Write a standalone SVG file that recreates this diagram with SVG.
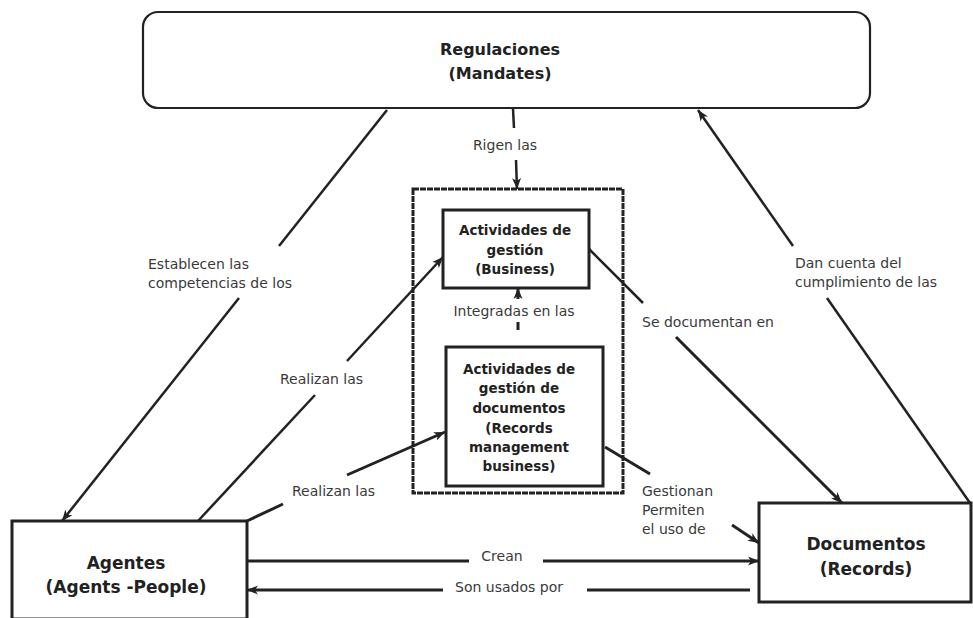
<svg xmlns="http://www.w3.org/2000/svg" width="973" height="618" viewBox="0 0 973 618">
<defs>
<marker id="ah" markerUnits="userSpaceOnUse" markerWidth="12" markerHeight="10" refX="11" refY="5" orient="auto">
<path d="M0,0.5 L11,5 L0,9.5 L3,5 z" fill="#222"/>
</marker>
</defs>
<style>
.box{fill:#fff;stroke:#222;stroke-width:3}
.rbox{fill:#fff;stroke:#222;stroke-width:2.2}
.dash{fill:none;stroke:#222;stroke-width:3;stroke-dasharray:6 1}
.nt{font-family:"DejaVu Sans",sans-serif;font-weight:bold;fill:#222;text-anchor:middle}
.lb{font-family:"DejaVu Sans",sans-serif;font-size:14px;fill:#3a3a3a}
.c{fill:none;stroke:#222;stroke-width:2.5}
.ct{fill:none;stroke:#222;stroke-width:3}
</style>
<rect width="973" height="618" fill="#fff"/>

<g id="regulaciones">
<rect class="rbox" x="143" y="12" width="727" height="96" rx="15"/>
<text class="nt" font-size="16" x="500" y="55">Regulaciones</text>
<text class="nt" font-size="16" x="500" y="79">(Mandates)</text>
</g>

<g id="contenedor">
<rect class="dash" x="413" y="189" width="210" height="304"/>
</g>

<g id="actividades">
<rect class="box" x="443" y="210" width="146" height="78"/>
<text class="nt" font-size="13.5" x="515" y="235">Actividades de</text>
<text class="nt" font-size="13.5" x="515" y="255">gestión</text>
<text class="nt" font-size="13.5" x="515" y="274">(Business)</text>
</g>

<g id="actividades-documentos">
<rect class="box" x="446" y="347" width="157" height="139"/>
<text class="nt" font-size="13.5" x="519" y="374">Actividades de</text>
<text class="nt" font-size="13.5" x="519" y="393">gestión de</text>
<text class="nt" font-size="13.5" x="519" y="413">documentos</text>
<text class="nt" font-size="13.5" x="519" y="433">(Records</text>
<text class="nt" font-size="13.5" x="519" y="452">management</text>
<text class="nt" font-size="13.5" x="519" y="471">business)</text>
</g>

<g id="agentes">
<rect class="box" x="12" y="521" width="235" height="98"/>
<text class="nt" font-size="17" x="126" y="569">Agentes</text>
<text class="nt" font-size="17" x="126" y="593">(Agents -People)</text>
</g>

<g id="documentos">
<rect class="box" x="759" y="503" width="212" height="99"/>
<text class="nt" font-size="17" x="866" y="550">Documentos</text>
<text class="nt" font-size="17" x="866" y="575">(Records)</text>
</g>

<g id="connectors">
<line class="c" x1="513" y1="109" x2="514" y2="128"/>
<line class="c" x1="516" y1="160" x2="517" y2="189" marker-end="url(#ah)"/>
<text class="lb" x="505" y="150" text-anchor="middle">Rigen las</text>

<line class="c" x1="387" y1="110" x2="279" y2="246"/>
<line class="c" x1="239" y1="298" x2="62" y2="521" marker-end="url(#ah)"/>
<text class="lb" x="148" y="269">Establecen las</text>
<text class="lb" x="148" y="288">competencias de los</text>

<line class="c" x1="198" y1="521" x2="315" y2="395"/>
<line class="c" x1="347" y1="361" x2="443" y2="257" marker-end="url(#ah)"/>
<text class="lb" x="280" y="384">Realizan las</text>

<line class="ct" x1="247" y1="521" x2="283" y2="504"/>
<line class="ct" x1="347" y1="475" x2="445" y2="432" marker-end="url(#ah)"/>
<text class="lb" x="292" y="496">Realizan las</text>

<line class="ct" x1="518" y1="322" x2="518" y2="330"/>
<line class="ct" x1="518" y1="299" x2="518" y2="288" marker-end="url(#ah)"/>
<text class="lb" x="514" y="316" text-anchor="middle">Integradas en las</text>

<line class="c" x1="589" y1="249" x2="643" y2="303"/>
<line class="ct" x1="676" y1="337" x2="842" y2="503" marker-end="url(#ah)"/>
<text class="lb" x="642" y="327">Se documentan en</text>

<line class="c" x1="793" y1="246" x2="698" y2="110" marker-end="url(#ah)"/>
<line class="c" x1="827" y1="298" x2="970" y2="503"/>
<text class="lb" x="795" y="268">Dan cuenta del</text>
<text class="lb" x="795" y="287">cumplimiento de las</text>

<line class="ct" x1="605" y1="447" x2="650" y2="474"/>
<line class="ct" x1="732" y1="525" x2="759" y2="543" marker-end="url(#ah)"/>
<text class="lb" x="642" y="496">Gestionan</text>
<text class="lb" x="642" y="515">Permiten</text>
<text class="lb" x="642" y="534">el uso de</text>

<line class="ct" x1="247" y1="561" x2="469" y2="561"/>
<line class="ct" x1="543" y1="561" x2="759" y2="561" marker-end="url(#ah)"/>
<text class="lb" x="502" y="561" text-anchor="middle">Crean</text>

<line class="ct" x1="750" y1="590" x2="587" y2="590"/>
<line class="ct" x1="443" y1="590" x2="247" y2="590" marker-end="url(#ah)"/>
<text class="lb" x="509" y="592" text-anchor="middle">Son usados por</text>
</g>
</svg>
